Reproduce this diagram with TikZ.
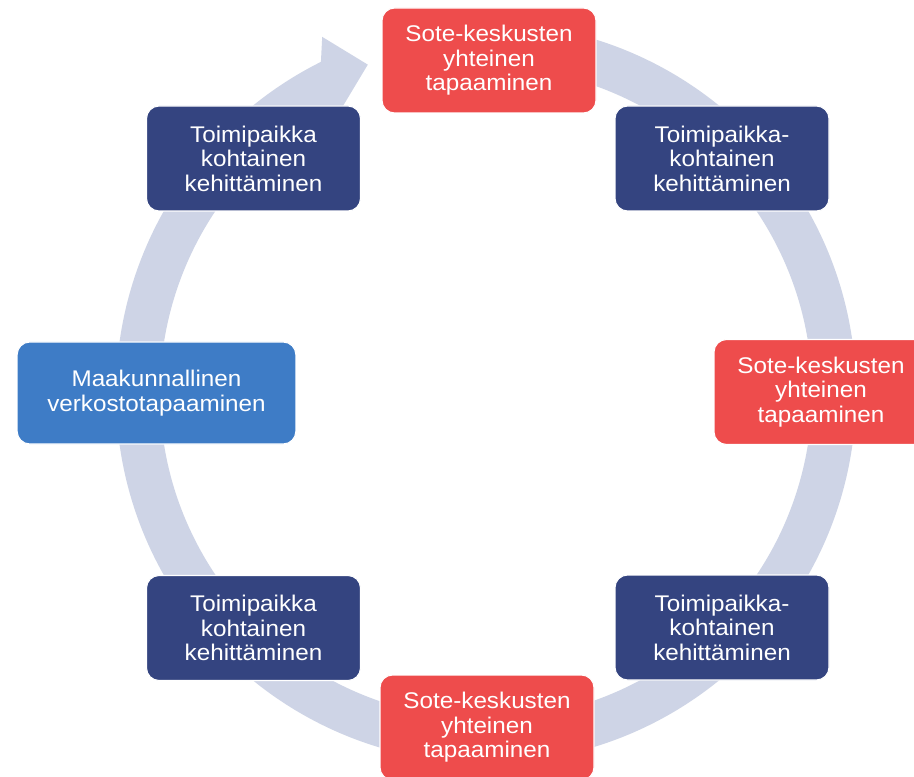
\documentclass[tikz,border=0pt]{standalone}
\usepackage{fontspec}
\setmainfont[FakeStretch=1.07]{Liberation Sans}
\definecolor{bandc}{RGB}{206,212,230}
\definecolor{redc}{RGB}{238,76,76}
\definecolor{navyc}{RGB}{52,68,128}
\definecolor{bluec}{RGB}{62,124,198}
\begin{document}
\begin{tikzpicture}[x=0.75pt,y=0.75pt,
  box/.style={rounded corners=9.5pt, draw=white, line width=0.8pt, text=white,
    align=center, minimum width=160.5pt, minimum height=78.75pt, inner sep=0pt,
    font=\fontsize{17}{18.4}\selectfont},
  redbox/.style={box, fill=redc},
  navybox/.style={box, fill=navyc},
  bluebox/.style={box, fill=bluec, minimum width=209pt, minimum height=76.5pt}]
\useasboundingbox (0,0) rectangle (914,-777);
\clip (0,0) rectangle (914,-777);
\fill[white] (0,0) rectangle (914,-777);
% circular arrow band
\begin{scope}[shift={(486,-393)}]
  \fill[bandc] (90:370) arc[start angle=90, end angle=-243.5, radius=370]
    -- (114.7:392) -- (109.8:349) -- (121.8:304) -- (120:326)
    arc[start angle=-240, end angle=90, radius=326] -- cycle;
\end{scope}
% nodes
\node[redbox]  (n1) at (489,-60.5)  {Sote-keskusten\\yhteinen\\tapaaminen};
\node[navybox] (n2) at (722,-158.5) {Toimipaikka-\\kohtainen\\kehittäminen};
\node[redbox]  (n3) at (821,-392)   {Sote-keskusten\\yhteinen\\tapaaminen};
\node[navybox] (n4) at (722,-627.5) {Toimipaikka-\\kohtainen\\kehittäminen};
\node[redbox]  (n5) at (487,-727.5) {Sote-keskusten\\yhteinen\\tapaaminen};
\node[navybox] (n6) at (253.5,-628) {Toimipaikka\\kohtainen\\kehittäminen};
\node[bluebox] (n7) at (156.5,-393) {Maakunnallinen\\verkostotapaaminen};
\node[navybox] (n8) at (253.5,-158.5) {Toimipaikka\\kohtainen\\kehittäminen};
\end{tikzpicture}
\end{document}
